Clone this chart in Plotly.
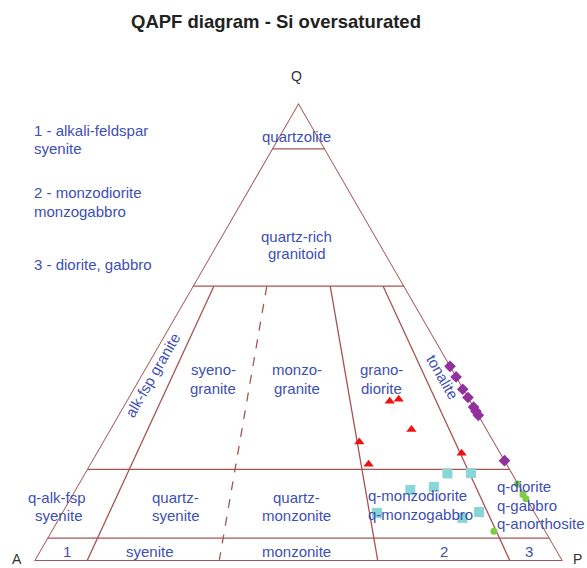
import plotly.graph_objects as go

# ---------------- data ----------------
Q_levels = [90, 60, 20, 5]        # horizontal boundaries, % Q
P_ratios = [10, 35, 65, 90]       # boundaries, 100*P/(A+P)
dashed_ratio = 35
ratio_top_Q = 60

red_Q = [34.9, 35.3, 28.7, 26.0, 21.1, 23.5]
red_A = [15.3, 13.4, 14.3, 25.5, 26.2, 7.4]
red_P = [49.8, 51.3, 57.0, 48.5, 52.7, 69.1]

purple_Q = [42.5, 40.2, 37.5, 35.7, 33.6, 32.7, 31.8, 21.9]
purple_A = [0.1, 0.1, 0.2, 0.1, 0.1, 0.1, 0.1, 0.1]
purple_P = [57.4, 59.7, 62.3, 64.2, 66.3, 67.2, 68.1, 78.0]

cyan_Q = [19.1, 19.2, 15.5, 16.2, 10.5, 9.4, 10.7]
cyan_A = [12.3, 7.8, 21.1, 16.3, 29.9, 14.3, 10.5]
cyan_P = [68.6, 73.0, 63.4, 67.5, 59.6, 76.3, 78.8]

green_Q = [16.8, 14.5, 13.6, 6.5]
green_A = [0.2, 0.3, 0.2, 9.8]
green_P = [83.0, 85.2, 86.2, 83.7]

LINE = "#a65353"
BLUE = "#3d4fb3"
W, H = 587, 568

fig = go.Figure()


def seg(a, b, c, dash="solid", width=1.3):
    fig.add_trace(go.Scatterternary(
        a=a, b=b, c=c, mode="lines", cliponaxis=False,
        line=dict(color=LINE, width=width, dash=dash),
        hoverinfo="skip", showlegend=False))


# triangle outline
seg([100, 0, 0, 100], [0, 100, 0, 0], [0, 0, 100, 0], width=1.8)
# horizontal Q boundaries
for q in Q_levels:
    seg([q, q], [100 - q, 0], [0, 100 - q])
# P/(A+P) boundaries
for r in P_ratios:
    rest = 100 - ratio_top_Q
    seg([ratio_top_Q, 0], [rest * (100 - r) / 100, 100 - r],
        [rest * r / 100, r], dash="dash" if r == dashed_ratio else "solid")


def pts(a, b, c, symbol, size, color):
    fig.add_trace(go.Scatterternary(
        a=a, b=b, c=c, mode="markers", cliponaxis=False,
        marker=dict(symbol=symbol, size=size, color=color, line=dict(width=0)),
        showlegend=False))


pts(red_Q, red_A, red_P, "triangle-up", 9, "#ee1111")
pts(purple_Q, purple_A, purple_P, "diamond", 9, "#93309f")
pts(cyan_Q, cyan_A, cyan_P, "square", 10, "#8ad6d6")
pts(green_Q, green_A, green_P, "circle", 7, "#7ecb45")

ax = dict(showline=False, showgrid=False, showticklabels=False, ticks="",
          title=dict(text=""), linewidth=0)

fig.update_layout(
    width=W, height=H,
    margin=dict(l=0, r=0, t=0, b=0),
    paper_bgcolor="white",
    font=dict(family="Liberation Sans, Arial, sans-serif"),
    ternary=dict(sum=100, bgcolor="white",
                 aaxis=ax, baxis=ax, caxis=ax,
                 domain=dict(x=[34 / W, 563 / W],
                             y=[(H - 561) / H, (H - 103) / H])),
    title=dict(text="<b>QAPF diagram - Si oversaturated</b>",
               x=276 / W, xanchor="center", y=1 - 22 / H, yanchor="middle",
               font=dict(size=18.5, color="#222222")),
)


def ann(text, x, y, size=15, color=BLUE, xanchor="center", angle=0):
    fig.add_annotation(text=text, x=x / W, y=1 - y / H, xref="paper", yref="paper",
                       showarrow=False, xanchor=xanchor, yanchor="middle",
                       textangle=angle, borderpad=0,
                       font=dict(size=size, color=color))


# vertex labels
ann("Q", 297, 76, size=14, color="#333333")
ann("A", 17, 559, size=14, color="#333333")
ann("P", 577, 559, size=14, color="#333333")

# legend notes
ann("1 - alkali-feldspar", 33, 130, xanchor="left")
ann("syenite", 33, 148, xanchor="left")
ann("2 - monzodiorite", 33, 192, xanchor="left")
ann("monzogabbro", 33, 211, xanchor="left")
ann("3 - diorite, gabbro", 33, 264, xanchor="left")

# field labels
ann("quartzolite", 297, 137)
ann("quartz-rich", 297, 236)
ann("granitoid", 297, 254)
ann("alk-fsp granite", 152, 375, angle=-60)
ann("syeno-", 213, 369)
ann("granite", 213, 388)
ann("monzo-", 297, 369)
ann("granite", 297, 388)
ann("grano-", 382, 369)
ann("diorite", 382, 388)
ann("tonalite", 442, 377, angle=60)
ann("q-alk-fsp", 57, 497)
ann("syenite", 59, 515)
ann("quartz-", 175, 497)
ann("syenite", 176, 515)
ann("quartz-", 297, 497)
ann("monzonite", 297, 515)
ann("q-monzodiorite", 367, 495, xanchor="left")
ann("q-monzogabbro", 367, 514, xanchor="left")
ann("q-diorite", 496, 486, xanchor="left")
ann("q-gabbro", 496, 505, xanchor="left")
ann("q-anorthosite", 496, 523, xanchor="left")
ann("1", 67, 551)
ann("syenite", 150, 551)
ann("monzonite", 297, 551)
ann("2", 444, 551)
ann("3", 529, 551)

fig.write_html("out.html",
               config={"displayModeBar": False},
               post_script="document.body.style.margin='0';"
                           "document.body.style.overflow='hidden';")
